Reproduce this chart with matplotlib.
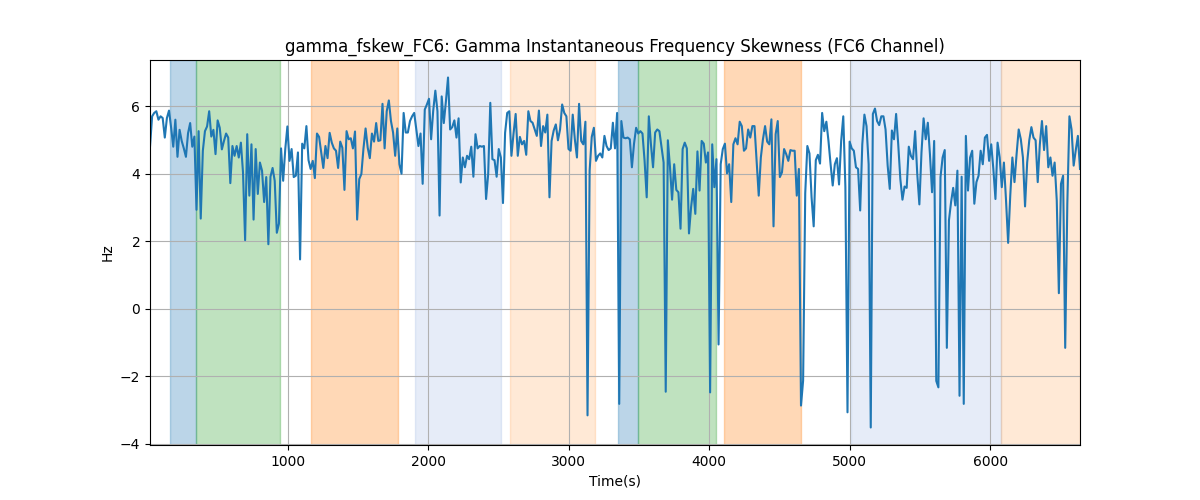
import numpy as np
from matplotlib import pyplot as plt

# gamma fskew values, read in order left to right
values = [
    4.8, 5.7, 5.8, 5.85, 5.6, 5.7, 5.65, 5.07, 5.65, 5.87, 5.36, 4.8, 5.6, 4.5, 5.3, 4.97, 4.75, 4.5, 5.2, 5.5,
    4.8, 5.1, 2.93, 5.26, 2.67, 4.68, 5.26, 5.4, 5.85, 5.1, 5.3, 4.58, 5.58, 5.36, 4.72, 4.97, 5.19, 5.07, 3.72, 4.82,
    4.53, 4.82, 4.48, 4.92, 4.04, 2.03, 5.17, 3.35, 4.87, 2.64,
    4.73, 3.4, 4.33, 4.09, 3.16, 3.9, 1.91, 3.91, 4.17, 3.79, 2.25, 2.52, 4.75, 3.79, 4.73, 5.4, 4.38, 4.73, 3.9, 3.94,
    4.63, 1.46, 4.89, 4.75, 5.41, 4.4, 4.14, 4.38, 3.87, 5.19, 5.09, 4.63, 4.17, 4.82, 4.46, 5.21, 4.92, 4.75, 4.68, 4.17,
    4.95, 4.77, 3.52, 5.26, 5.02, 5.05, 4.75, 5.25, 2.64,
    3.84, 3.99, 4.75, 5.34, 4.77, 4.46, 5.19, 4.95, 5.5, 4.97, 4.99, 6.07, 4.75, 5.85, 6.17, 5.56, 5.22, 4.53, 5.34, 4.28,
    4.0, 5.8, 5.22, 5.22, 5.56, 5.7, 5.8, 5.31, 4.82, 5.19, 3.7, 5.9, 6.05, 6.22, 5.02, 5.87, 6.46, 5.85, 2.76, 6.29,
    5.5, 6.14, 6.85, 5.31, 5.38, 5.58, 5.07, 5.64,
    3.74, 4.48, 4.19, 4.53, 4.43, 4.8, 3.91, 5.17, 4.75, 4.82, 4.8, 4.82, 3.25, 3.99, 6.1, 4.43, 4.4, 3.91, 4.73, 4.48,
    3.13, 5.21, 5.8, 5.85, 4.53, 5.19, 5.77, 4.53, 5.09, 4.87, 4.97, 4.56, 5.85, 5.56, 5.51, 5.31, 5.12, 5.87, 4.82, 5.41,
    5.22, 5.75, 3.3, 4.97, 5.28, 5.46, 4.99, 5.31, 6.05, 5.8, 5.7, 4.73, 4.68, 5.75, 5.02, 4.48, 6.07,
    4.97, 4.87, 5.54, -3.16, 4.09, 5.09, 5.36, 4.38, 4.53, 4.6, 4.48, 5.12, 4.82, 4.7, 4.75, 5.51, 4.75, 5.8, -2.82, 5.56,
    5.07, 5.05, 5.07, 5.02, 4.19, 4.89, 5.36, 5.19, 5.26, 5.19, 4.38, 3.3, 5.7, 4.87, 4.19, 5.22, 5.31, 5.26, 4.8, 4.33,
    -2.46, 4.99, 4.21, 3.23, 4.28, 3.52, 3.45, 2.37, 4.73, 4.92, 4.75, 2.23, 3.01, 3.55, 2.81, 4.66, 3.5,
    4.97, 4.89, 4.33, 4.63, -2.48, 4.87, 3.6, 4.43, -1.06, 4.28, 4.73, 4.89, 4.01, 4.28, 3.16, 4.87, 5.05, 4.87, 5.54, 5.41,
    4.68, 4.75, 5.31, 5.07, 5.41, 5.41, 4.38, 3.35, 4.48, 5.02, 5.41, 4.95, 4.87, 5.61, 2.44, 5.17, 5.56, 3.9, 4.04, 4.73,
    4.58, 4.38, 4.7, 4.68, 4.68, 3.35, 4.14, -2.87, -2.13, 3.42, 4.82, 4.6, 3.3, 2.44, 4.4, 4.56, 4.3,
    5.8, 5.26, 5.54, 4.97, 4.28, 3.65, 4.28, 4.46, 3.68, 4.97, 5.7, 3.6, -3.07, 4.95, 4.75, 4.68, 4.19, 4.14, 2.91, 4.87,
    5.75, 5.41, 4.28, -3.52, 5.77, 5.93, 5.56, 5.44, 5.7, 5.7, 5.31, 4.24, 3.55, 5.28, 5.02, 5.77, 4.87, 3.84, 3.23, 3.62,
    3.58, 4.8, 4.53, 4.43, 5.26, 3.99, 3.09, 4.63, 5.64, 5.02, 5.51, 4.58, 3.45, 4.97, -2.14, -2.33, 3.9, 4.48, 4.7, -1.16,
    2.62,
    3.16, 3.58, 3.06, 4.09, -2.58, 3.91, -2.82, 5.12, 3.5, 4.48, 4.68, 3.11, 3.75, 3.94, 4.68, 4.28, 5.07, 5.15, 4.38, 4.87,
    4.14, 3.25, 4.92, 4.48, 3.6, 4.33, 3.21, 1.95, 3.35, 4.48, 3.75, 4.58, 5.31, 5.02, 4.48, 3.03, 4.33, 4.99, 5.38, 5.07,
    4.99, 3.75, 4.87, 5.56, 4.7, 5.41, 4.19, 4.48, 3.94, 4.33, 3.21, 0.46, 3.7, 3.94, -1.16, 3.11, 5.7, 5.31, 4.24, 4.7,
    5.12, 4.14,
]
t_start = 17
t_end = 6640
times = np.linspace(t_start, t_end, len(values))

# shaded periods: start, end, colour, alpha
span_starts = [160, 345, 1164, 1905, 2581, 3350, 3493, 4105, 5010, 6078]
span_ends = [345, 943, 1784, 2518, 3187, 3493, 4049, 4654, 6078, 6640]
span_colors = ["tab:blue", "tab:green", "tab:orange", "#4f7fd0", "tab:orange",
               "tab:blue", "tab:green", "tab:orange", "#4f7fd0", "tab:orange"]
span_alphas = [0.3, 0.3, 0.3, 0.14, 0.17, 0.3, 0.3, 0.3, 0.14, 0.17]

fig, ax = plt.subplots(figsize=(12, 5), dpi=100)
for s, e, c, a in zip(span_starts, span_ends, span_colors, span_alphas):
    ax.axvspan(s, e, color=c, alpha=a)

ax.plot(times, values, color="tab:blue")
ax.set_xlim(times[0], times[-1])
ax.grid(True)
ax.set_title("gamma_fskew_FC6: Gamma Instantaneous Frequency Skewness (FC6 Channel)")
ax.set_xlabel("Time(s)")
ax.set_ylabel("Hz")

plt.savefig("out.png")
